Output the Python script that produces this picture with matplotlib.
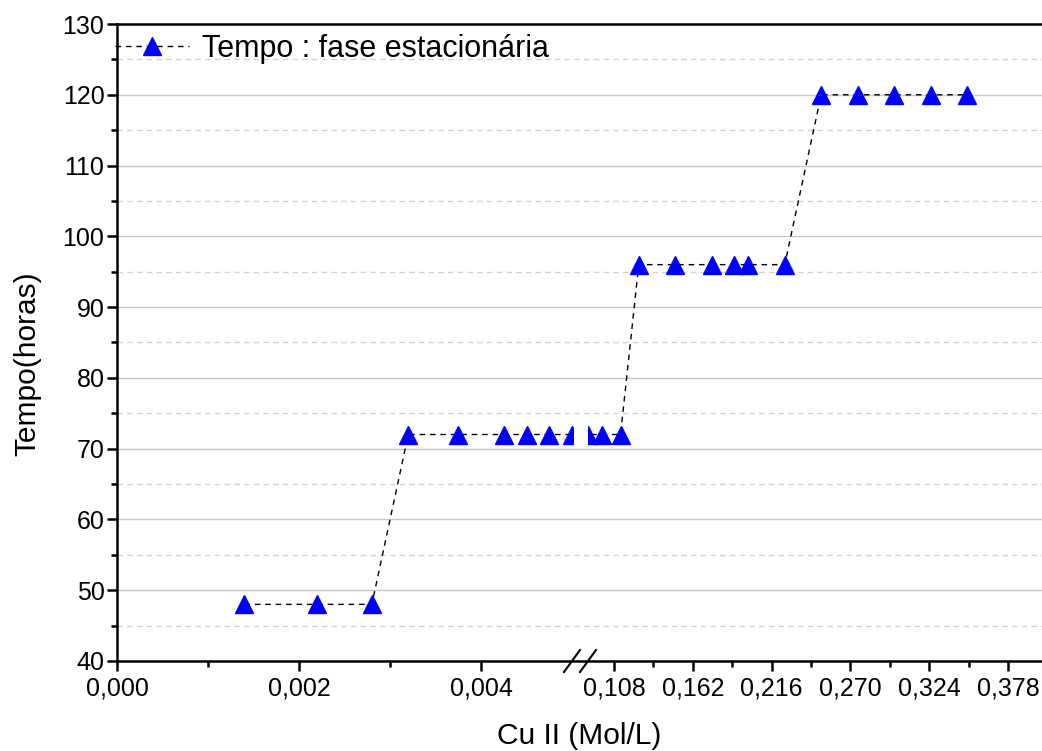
import matplotlib
matplotlib.use('Agg')
import matplotlib.pyplot as plt
from matplotlib.lines import Line2D
from matplotlib.ticker import MultipleLocator, FixedLocator

plt.rcParams['font.family'] = ['Liberation Sans', 'DejaVu Sans']

# dados (Cu II em mol/L, tempo em horas)
cu_conc = [0.0014, 0.0022, 0.0028, 0.0032, 0.00375, 0.00425, 0.0045, 0.00475, 0.005,
           0.09, 0.1, 0.1125, 0.125, 0.15, 0.175, 0.19, 0.2, 0.225,
           0.25, 0.275, 0.3, 0.325, 0.35]
tempo = [48, 48, 48, 72, 72, 72, 72, 72, 72,
         72, 72, 72, 96, 96, 96, 96, 96, 96,
         120, 120, 120, 120, 120]

ticks_baixo = [0.000, 0.002, 0.004]
labels_baixo = ['0,000', '0,002', '0,004']
ticks_alto = [0.108, 0.162, 0.216, 0.270, 0.324, 0.378]
labels_alto = ['0,108', '0,162', '0,216', '0,270', '0,324', '0,378']

W, H = 1042, 751
fig = plt.figure(figsize=(W / 100, H / 100), dpi=100)

def px(x0, y0, x1, y1):
    return [x0 / W, 1 - y1 / H, (x1 - x0) / W, (y1 - y0) / H]

lw_spine = 1.8

# eixo de fundo: grade e bordas superior/inferior
bg = fig.add_axes(px(117, 24, 1042, 661))
bg.set_ylim(40, 130)
bg.set_xticks([])
bg.yaxis.set_major_locator(MultipleLocator(10))
bg.yaxis.set_minor_locator(MultipleLocator(5))
bg.tick_params(axis='y', which='both', length=0, labelleft=False)
bg.grid(axis='y', which='major', color='#c8c8c8', lw=1.0, ls='-')
bg.grid(axis='y', which='minor', color='#d2d2d2', lw=1.0, ls=(0, (4, 3)))
bg.set_axisbelow(True)
for s in ['left', 'right']:
    bg.spines[s].set_visible(False)
for s in ['top', 'bottom']:
    bg.spines[s].set_linewidth(lw_spine)

ax1 = fig.add_axes(px(117, 24, 573, 661))
ax2 = fig.add_axes(px(588, 24, 1042, 661))

for ax in (ax1, ax2):
    ax.patch.set_visible(False)
    ax.plot(cu_conc, tempo, ls='--', dashes=(4, 3.5), color='black', lw=1.0,
            marker='^', ms=12.5, mfc='blue', mec='blue', zorder=3)
    ax.set_ylim(40, 130)
    for s in ['top', 'right', 'bottom']:
        ax.spines[s].set_visible(False)
    ax.tick_params(axis='both', which='major', direction='out', length=7, width=1.8,
                   labelsize=18)
    ax.tick_params(axis='x', which='major', pad=4)
    ax.tick_params(axis='y', which='major', pad=2)
    ax.tick_params(axis='both', which='minor', direction='out', length=4, width=1.8)

ax1.set_xlim(0, 0.00501)
ax1.set_xticks(ticks_baixo)
ax1.set_xticklabels(labels_baixo)
ax1.xaxis.set_minor_locator(FixedLocator([0.001, 0.003]))
ax1.spines['left'].set_linewidth(lw_spine)
ax1.yaxis.set_major_locator(MultipleLocator(10))
ax1.yaxis.set_minor_locator(MultipleLocator(5))

ax2.set_xlim(0.0902, 0.4013)
ax2.set_xticks(ticks_alto)
ax2.set_xticklabels(labels_alto)
ax2.xaxis.set_minor_locator(FixedLocator([0.135, 0.189, 0.243, 0.297, 0.351]))
ax2.spines['left'].set_visible(False)
ax2.set_yticks([])
ax2.tick_params(axis='y', which='both', left=False, labelleft=False)

# marcas de quebra no eixo x
for xa, xb in [(564, 580), (580, 596)]:
    fig.add_artist(Line2D([xa / W, xb / W], [1 - 672 / H, 1 - 650 / H],
                          transform=fig.transFigure, color='black', lw=1.5))

leg = ax1.legend(['Tempo : fase estacionária'], loc='upper left',
                 bbox_to_anchor=(-0.004, 0.984), frameon=False, fontsize=22,
                 handlelength=2.4, handletextpad=0.45, borderaxespad=0.0,
                 borderpad=0.0)

fig.text(579 / W, 1 - 736 / H, 'Cu II (Mol/L)', ha='center', va='center', fontsize=21.5)
fig.text(27 / W, 1 - 364 / H, 'Tempo(horas)', ha='center', va='center',
         rotation=90, fontsize=21.5)

fig.savefig('out.png', dpi=100)
